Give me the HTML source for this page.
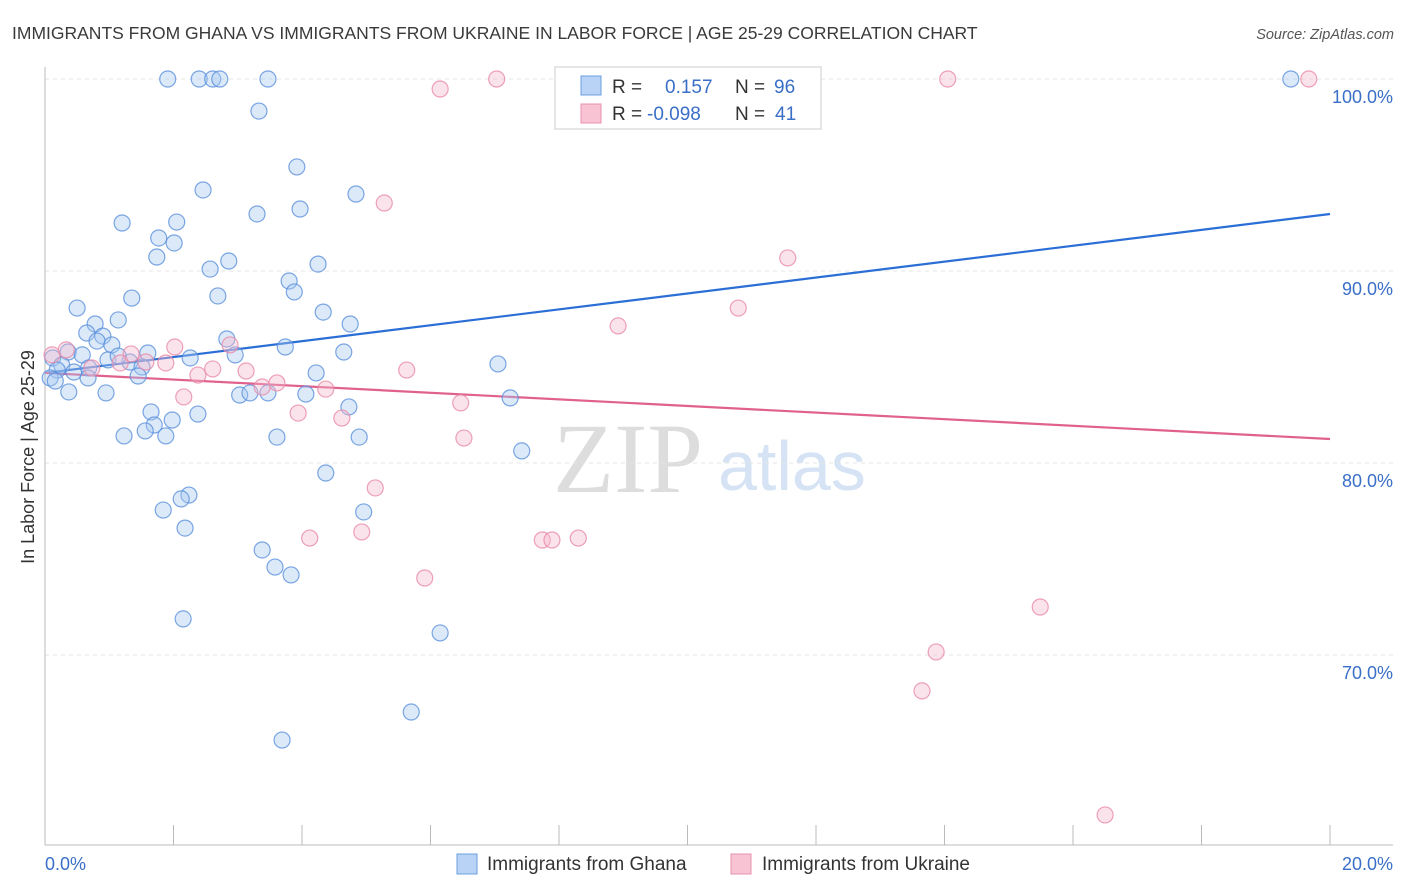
<!DOCTYPE html>
<html><head><meta charset="utf-8"><style>
body{margin:0;background:#fff;font-family:"Liberation Sans",sans-serif;}
svg{display:block}
</style></head><body>
<svg id="chart" width="1406" height="892" xmlns="http://www.w3.org/2000/svg" font-family="Liberation Sans, sans-serif">
<text x="12" y="39" font-size="17.5" fill="#3a3a3a">IMMIGRANTS FROM GHANA VS IMMIGRANTS FROM UKRAINE IN LABOR FORCE | AGE 25-29 CORRELATION CHART</text>
<text x="1394" y="39" font-size="14.5" fill="#555" font-style="italic" text-anchor="end">Source: ZipAtlas.com</text>
<g>
<text x="553" y="492" font-size="100" fill="#ddd" font-family="Liberation Serif, serif">ZIP</text>
<text x="718" y="490" font-size="70" fill="#d5e3f5">atlas</text>
</g>
<g id="grid"></g>
<g id="axes"></g>
<g id="trend"></g>
<g id="pts"></g>
<g>
<rect x="555" y="67" width="266" height="62" fill="#fff" stroke="#ccc"/>
<rect x="581" y="76" width="20" height="19" fill="#b8d3f5" stroke="#6a9fe0"/>
<rect x="581" y="104" width="20" height="19" fill="#f8c3d3" stroke="#e890ae"/>
<text x="612" y="93" font-size="19" fill="#333">R =</text>
<text x="665" y="93" font-size="19" fill="#3a6fc8">0.157</text>
<text x="735" y="93" font-size="19" fill="#333">N =</text>
<text x="774" y="93" font-size="19" fill="#3a6fc8">96</text>
<text x="612" y="120" font-size="19" fill="#333">R =</text>
<text x="647" y="120" font-size="19" fill="#3a6fc8">-0.098</text>
<text x="735" y="120" font-size="19" fill="#333">N =</text>
<text x="775" y="120" font-size="19" fill="#3a6fc8">41</text>
</g>
<g>
<rect x="457" y="854" width="20" height="20" fill="#b8d3f5" stroke="#6a9fe0"/>
<text x="487" y="870" font-size="19" fill="#333">Immigrants from Ghana</text>
<rect x="731" y="854" width="20" height="20" fill="#f8c3d3" stroke="#e890ae"/>
<text x="762" y="870" font-size="19" fill="#333">Immigrants from Ukraine</text>
</g>
</svg>
<script>
const ghanaX=[1.91,2.40,2.61,2.72,3.47,8.22,9.18,19.39,3.33,3.92,4.84,2.46,3.97,3.30,1.20,2.05,1.77,2.01,1.74,2.86,2.57,4.25,3.80,3.88,1.35,2.69,0.50,4.33,1.14,0.78,4.75,0.65,0.90,2.83,0.81,1.04,3.74,0.36,1.60,0.58,2.96,4.65,2.26,0.12,0.98,1.32,1.14,7.05,0.26,1.51,0.19,0.45,0.68,4.22,0.08,1.45,0.67,0.16,0.37,0.95,3.03,3.19,3.47,4.06,7.24,4.73,1.65,2.38,1.98,1.70,1.56,1.23,1.88,3.61,4.89,7.42,4.37,2.24,2.12,1.84,4.96,2.18,3.38,3.58,3.83,2.15,6.15,5.70,3.69];
const ghanaY=[100,100,100,100,100,100,100,100,98.33,95.42,94.01,94.22,93.23,92.97,92.50,92.55,91.72,91.46,90.73,90.52,90.10,90.36,89.48,88.91,88.59,88.70,88.07,87.86,87.45,87.24,87.24,86.77,86.61,86.46,86.35,86.15,86.04,85.78,85.73,85.63,85.63,85.78,85.47,85.47,85.37,85.26,85.57,85.16,85.10,85.00,84.84,84.74,84.95,84.69,84.43,84.53,84.43,84.27,83.70,83.65,83.54,83.65,83.65,83.59,83.39,82.92,82.66,82.55,82.24,81.98,81.67,81.41,81.41,81.35,81.35,80.63,79.48,78.33,78.13,77.55,77.45,76.61,75.47,74.58,74.17,71.88,71.15,67.03,65.57];
const ukrX=[7.03,14.05,19.67,6.15,5.28,11.56,10.79,8.92,0.33,2.02,0.11,1.34,2.88,1.88,1.57,2.38,2.61,3.13,5.63,3.38,3.61,4.37,2.16,6.47,3.94,4.62,6.52,5.14,4.12,4.93,7.74,7.89,8.30,5.91,15.49,13.87,13.65,16.50,0.73,1.17];
const ukrY=[100,100,100,99.48,93.54,90.68,88.07,87.14,85.89,86.04,85.63,85.68,86.15,85.21,85.26,84.58,84.90,84.79,84.84,83.96,84.17,83.85,83.44,83.13,82.60,82.34,81.30,78.70,76.09,76.41,75.99,75.99,76.09,74.01,72.50,70.16,68.13,61.67,84.95,85.21];
const ghanaTrend=[84.69,92.97];
const ukrTrend=[84.69,81.25];
const yTicks=[100,90,80,70];
const yTickLabels=["100.0%","90.0%","80.0%","70.0%"];
const xTicks=[0,2,4,6,8,10,12,14,16,18,20];
const xLabels=["0.0%","20.0%"];
const NS="http://www.w3.org/2000/svg";
const sx=v=>45+v*64.25, sy=v=>79+(100-v)*19.2;
function mk(tag,attrs,parent){const e=document.createElementNS(NS,tag);for(const k in attrs)e.setAttribute(k,attrs[k]);document.getElementById(parent).appendChild(e);return e;}
yTicks.forEach((t,i)=>{
 const l=mk('line',{x1:45,x2:1393,y1:sy(t),y2:sy(t),stroke:'#e4e4e4','stroke-dasharray':'4,4'},'grid');
 
 
 const tx=mk('text',{x:1393,y:sy(t)+24,'font-size':18,fill:'#3a6fc8','text-anchor':'end'},'axes');
 tx.textContent=yTickLabels[i];
 
 
});
const ax=mk('line',{x1:45,x2:1393,y1:845,y2:845,stroke:'#bbb'},'axes');


const ay=mk('line',{x1:45,x2:45,y1:67,y2:845,stroke:'#bbb'},'axes');


xTicks.forEach(t=>{const l=mk('line',{x1:sx(t),x2:sx(t),y1:825,y2:845,stroke:'#bbb'},'axes');
 
 });
const xl0=mk('text',{x:45,y:870,'font-size':18,fill:'#3a6fc8'},'axes');xl0.textContent=xLabels[0];


const xl1=mk('text',{x:1393,y:870,'font-size':18,fill:'#3a6fc8','text-anchor':'end'},'axes');xl1.textContent=xLabels[1];


const yt=mk('text',{x:34,y:457,'font-size':18,fill:'#333','text-anchor':'middle',transform:'rotate(-90 34 457)'},'axes');yt.textContent='In Labor Force | Age 25-29';


function pts(X,Y,fill,stroke,name){X.forEach((x,i)=>{const c=mk('circle',{cx:sx(x),cy:sy(Y[i]),r:8,fill:fill,'fill-opacity':0.4,stroke:stroke,'stroke-width':1.2,'stroke-opacity':0.8},'pts');
 
 });}
pts(ghanaX,ghanaY,'#a8c8f0','#5a90dc','ghana-point');
pts(ukrX,ukrY,'#f5b8cc','#e88aa8','ukraine-point');
const t1=mk('line',{x1:sx(0),y1:sy(ghanaTrend[0]),x2:sx(20),y2:sy(ghanaTrend[1]),stroke:'#2b6fd6','stroke-width':2.2},'trend');


const t2=mk('line',{x1:sx(0),y1:sy(ukrTrend[0]),x2:sx(20),y2:sy(ukrTrend[1]),stroke:'#e0608e','stroke-width':2.2},'trend');


</script>
</body></html>
